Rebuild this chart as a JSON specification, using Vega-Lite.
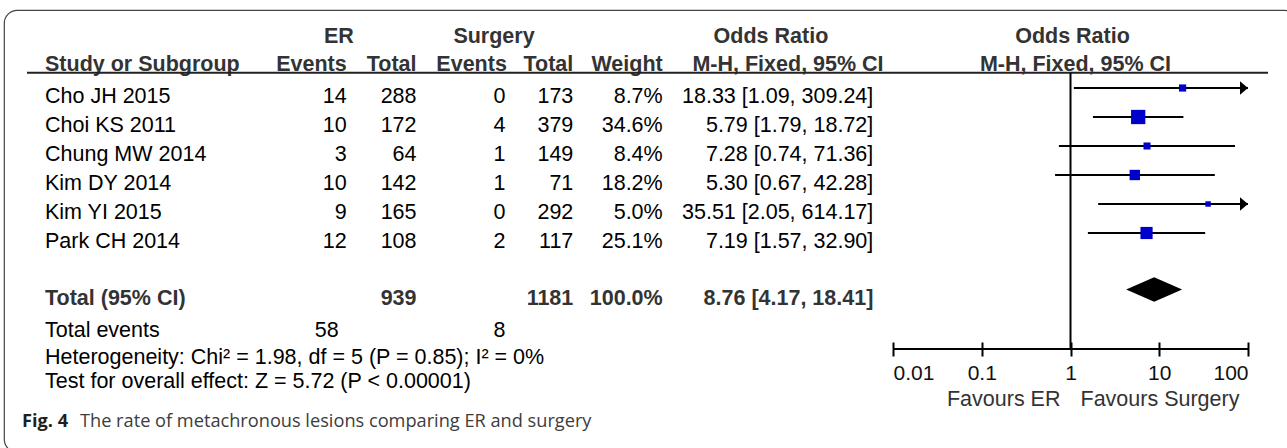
{
  "$schema": "https://vega.github.io/schema/vega-lite/v6.json",
  "width": 1293,
  "height": 442,
  "autosize": {"type": "none"},
  "padding": {"left": 4, "top": 10, "right": -10, "bottom": -4},
  "background": "white",
  "view": {"stroke": "#444444", "strokeWidth": 1.2, "cornerRadius": 13, "fill": null},
  "config": {
    "text": {"font": "Liberation Sans", "fontSize": 21.5, "baseline": "top", "dy": -2, "color": "#000000"}
  },
  "datasets": {
    "studies": [
      {"study": "Cho JH 2015", "row": 2, "er_events": 14, "er_total": 288, "s_events": 0, "s_total": 173, "weight": 0.087, "or": 18.33, "lo": 1.09, "hi": 309.24, "ci": "18.33 [1.09, 309.24]"},
      {"study": "Choi KS 2011", "row": 3, "er_events": 10, "er_total": 172, "s_events": 4, "s_total": 379, "weight": 0.346, "or": 5.79, "lo": 1.79, "hi": 18.72, "ci": "5.79 [1.79, 18.72]"},
      {"study": "Chung MW 2014", "row": 4, "er_events": 3, "er_total": 64, "s_events": 1, "s_total": 149, "weight": 0.084, "or": 7.28, "lo": 0.74, "hi": 71.36, "ci": "7.28 [0.74, 71.36]"},
      {"study": "Kim DY 2014", "row": 5, "er_events": 10, "er_total": 142, "s_events": 1, "s_total": 71, "weight": 0.182, "or": 5.30, "lo": 0.67, "hi": 42.28, "ci": "5.30 [0.67, 42.28]"},
      {"study": "Kim YI 2015", "row": 6, "er_events": 9, "er_total": 165, "s_events": 0, "s_total": 292, "weight": 0.050, "or": 35.51, "lo": 2.05, "hi": 614.17, "ci": "35.51 [2.05, 614.17]"},
      {"study": "Park CH 2014", "row": 7, "er_events": 12, "er_total": 108, "s_events": 2, "s_total": 117, "weight": 0.251, "or": 7.19, "lo": 1.57, "hi": 32.90, "ci": "7.19 [1.57, 32.90]"}
    ],
    "totals": [
      {"study": "Total (95% CI)", "row": 8, "er_events": 58, "er_total": 939, "s_events": 8, "s_total": 1181, "weight": 1.0, "or": 8.76, "lo": 4.17, "hi": 18.41, "ci": "8.76 [4.17, 18.41]"}
    ],
    "notes": [
      {"row": 10, "label": "Heterogeneity: Chi² = 1.98, df = 5 (P = 0.85); I² = 0%"},
      {"row": 11, "label": "Test for overall effect: Z = 5.72 (P < 0.00001)"}
    ],
    "labels": [
      {"key": "h_er", "label": "ER"},
      {"key": "h_surg", "label": "Surgery"},
      {"key": "h_or", "label": "Odds Ratio"},
      {"key": "c_study", "label": "Study or Subgroup"},
      {"key": "c_er_e", "label": "Events"},
      {"key": "c_er_t", "label": "Total"},
      {"key": "c_s_e", "label": "Events"},
      {"key": "c_s_t", "label": "Total"},
      {"key": "c_w", "label": "Weight"},
      {"key": "c_ci", "label": "M-H, Fixed, 95% CI"},
      {"key": "f_or", "label": "Odds Ratio"},
      {"key": "f_ci", "label": "M-H, Fixed, 95% CI"},
      {"key": "fav_er", "label": "Favours ER"},
      {"key": "fav_s", "label": "Favours Surgery"},
      {"key": "fig", "label": "Fig. 4"},
      {"key": "caption", "label": "The rate of metachronous lesions comparing ER and surgery"}
    ],
    "reference": [
      {"or": 1, "lo": 0.01, "hi": 100}
    ]
  },
  "resolve": {"scale": {"x": "independent"}},
  "layer": [
    {
      "layer": [
        {"data": {"name": "studies"}, "mark": {"type": "text", "align": "left"},
         "encoding": {"x": {"datum": 0, "scale": {"type": "linear", "domain": [-1, 0, 1, 2, 3, 4, 5, 6, 7], "range": [23, 41, 342.7, 412.5, 501.5, 569.3, 658.7, 869.3, 1264], "zero": false, "nice": false}, "axis": null},
                      "y": {"field": "row", "type": "quantitative",
                            "scale": {"type": "linear", "domain": [0, 1, 1.5, 2, 7, 8, 9, 10, 11, 11.5, 12],
                                      "range": [18.3, 46, 62.7, 78, 223, 279.5, 312, 339, 363, 380.5, 405], "zero": false, "nice": false},
                            "axis": null},
                      "text": {"field": "study", "type": "nominal"}}},
        {"data": {"name": "studies"}, "mark": {"type": "text", "align": "right"},
         "encoding": {"x": {"datum": 1, "axis": null}, "y": {"field": "row", "type": "quantitative", "axis": null}, "text": {"field": "er_events", "type": "nominal"}}},
        {"data": {"name": "studies"}, "mark": {"type": "text", "align": "right"},
         "encoding": {"x": {"datum": 2, "axis": null}, "y": {"field": "row", "type": "quantitative", "axis": null}, "text": {"field": "er_total", "type": "nominal"}}},
        {"data": {"name": "studies"}, "mark": {"type": "text", "align": "right"},
         "encoding": {"x": {"datum": 3, "axis": null}, "y": {"field": "row", "type": "quantitative", "axis": null}, "text": {"field": "s_events", "type": "nominal"}}},
        {"data": {"name": "studies"}, "mark": {"type": "text", "align": "right"},
         "encoding": {"x": {"datum": 4, "axis": null}, "y": {"field": "row", "type": "quantitative", "axis": null}, "text": {"field": "s_total", "type": "nominal"}}},
        {"data": {"name": "studies"}, "mark": {"type": "text", "align": "right"},
         "encoding": {"x": {"datum": 5, "axis": null}, "y": {"field": "row", "type": "quantitative", "axis": null}, "text": {"field": "weight", "type": "quantitative", "format": ".1%"}}},
        {"data": {"name": "studies"}, "mark": {"type": "text", "align": "right"},
         "encoding": {"x": {"datum": 6, "axis": null}, "y": {"field": "row", "type": "quantitative", "axis": null}, "text": {"field": "ci", "type": "nominal"}}},

        {"data": {"name": "totals"}, "mark": {"type": "text", "align": "left", "fontWeight": "bold", "color": "#333333"},
         "encoding": {"x": {"datum": 0, "axis": null}, "y": {"field": "row", "type": "quantitative", "axis": null}, "text": {"field": "study", "type": "nominal"}}},
        {"data": {"name": "totals"}, "mark": {"type": "text", "align": "right", "fontWeight": "bold", "color": "#333333"},
         "encoding": {"x": {"datum": 2, "axis": null}, "y": {"field": "row", "type": "quantitative", "axis": null}, "text": {"field": "er_total", "type": "nominal"}}},
        {"data": {"name": "totals"}, "mark": {"type": "text", "align": "right", "fontWeight": "bold", "color": "#333333"},
         "encoding": {"x": {"datum": 4, "axis": null}, "y": {"field": "row", "type": "quantitative", "axis": null}, "text": {"field": "s_total", "type": "nominal"}}},
        {"data": {"name": "totals"}, "mark": {"type": "text", "align": "right", "fontWeight": "bold", "color": "#333333"},
         "encoding": {"x": {"datum": 5, "axis": null}, "y": {"field": "row", "type": "quantitative", "axis": null}, "text": {"field": "weight", "type": "quantitative", "format": ".1%"}}},
        {"data": {"name": "totals"}, "mark": {"type": "text", "align": "right", "fontWeight": "bold", "color": "#333333"},
         "encoding": {"x": {"datum": 6, "axis": null}, "y": {"field": "row", "type": "quantitative", "axis": null}, "text": {"field": "ci", "type": "nominal"}}},

        {"data": {"name": "totals"}, "mark": {"type": "text", "align": "left"},
         "encoding": {"x": {"datum": 0, "axis": null}, "y": {"datum": 9, "axis": null}, "text": {"value": "Total events"}}},
        {"data": {"name": "totals"}, "mark": {"type": "text", "align": "right", "dx": -8},
         "encoding": {"x": {"datum": 1, "axis": null}, "y": {"datum": 9, "axis": null}, "text": {"field": "er_events", "type": "nominal"}}},
        {"data": {"name": "totals"}, "mark": {"type": "text", "align": "right"},
         "encoding": {"x": {"datum": 3, "axis": null}, "y": {"datum": 9, "axis": null}, "text": {"field": "s_events", "type": "nominal"}}},

        {"data": {"name": "notes"}, "mark": {"type": "text", "align": "left"},
         "encoding": {"x": {"datum": 0, "axis": null}, "y": {"field": "row", "type": "quantitative", "axis": null}, "text": {"field": "label", "type": "nominal"}}},

        {"data": {"name": "labels"}, "transform": [{"filter": "datum.key == 'h_er'"}],
         "mark": {"type": "text", "align": "center", "fontWeight": "bold", "color": "#333333"},
         "encoding": {"x": {"datum": 0.974, "axis": null}, "y": {"datum": 0, "axis": null}, "text": {"field": "label", "type": "nominal"}}},
        {"data": {"name": "labels"}, "transform": [{"filter": "datum.key == 'h_surg'"}],
         "mark": {"type": "text", "align": "center", "fontWeight": "bold", "color": "#333333"},
         "encoding": {"x": {"datum": 2.871, "axis": null}, "y": {"datum": 0, "axis": null}, "text": {"field": "label", "type": "nominal"}}},
        {"data": {"name": "labels"}, "transform": [{"filter": "datum.key == 'h_or'"}],
         "mark": {"type": "text", "align": "center", "fontWeight": "bold", "color": "#333333"},
         "encoding": {"x": {"datum": 5.514, "axis": null}, "y": {"datum": 0, "axis": null}, "text": {"field": "label", "type": "nominal"}}},

        {"data": {"name": "labels"}, "transform": [{"filter": "datum.key == 'c_study'"}],
         "mark": {"type": "text", "align": "left", "fontWeight": "bold", "color": "#333333"},
         "encoding": {"x": {"datum": 0, "axis": null}, "y": {"datum": 1, "axis": null}, "text": {"field": "label", "type": "nominal"}}},
        {"data": {"name": "labels"}, "transform": [{"filter": "datum.key == 'c_er_e'"}],
         "mark": {"type": "text", "align": "right", "fontWeight": "bold", "color": "#333333"},
         "encoding": {"x": {"datum": 1, "axis": null}, "y": {"datum": 1, "axis": null}, "text": {"field": "label", "type": "nominal"}}},
        {"data": {"name": "labels"}, "transform": [{"filter": "datum.key == 'c_er_t'"}],
         "mark": {"type": "text", "align": "right", "fontWeight": "bold", "color": "#333333"},
         "encoding": {"x": {"datum": 2, "axis": null}, "y": {"datum": 1, "axis": null}, "text": {"field": "label", "type": "nominal"}}},
        {"data": {"name": "labels"}, "transform": [{"filter": "datum.key == 'c_s_e'"}],
         "mark": {"type": "text", "align": "right", "fontWeight": "bold", "color": "#333333"},
         "encoding": {"x": {"datum": 3.02, "axis": null}, "y": {"datum": 1, "axis": null}, "text": {"field": "label", "type": "nominal"}}},
        {"data": {"name": "labels"}, "transform": [{"filter": "datum.key == 'c_s_t'"}],
         "mark": {"type": "text", "align": "right", "fontWeight": "bold", "color": "#333333"},
         "encoding": {"x": {"datum": 4, "axis": null}, "y": {"datum": 1, "axis": null}, "text": {"field": "label", "type": "nominal"}}},
        {"data": {"name": "labels"}, "transform": [{"filter": "datum.key == 'c_w'"}],
         "mark": {"type": "text", "align": "right", "fontWeight": "bold", "color": "#333333"},
         "encoding": {"x": {"datum": 5, "axis": null}, "y": {"datum": 1, "axis": null}, "text": {"field": "label", "type": "nominal"}}},
        {"data": {"name": "labels"}, "transform": [{"filter": "datum.key == 'c_ci'"}],
         "mark": {"type": "text", "align": "center", "fontWeight": "bold", "color": "#333333"},
         "encoding": {"x": {"datum": 5.595, "axis": null}, "y": {"datum": 1, "axis": null}, "text": {"field": "label", "type": "nominal"}}},

        {"data": {"name": "labels"}, "transform": [{"filter": "datum.key == 'c_study'"}],
         "mark": {"type": "rule", "strokeWidth": 2, "color": "#222222"},
         "encoding": {"x": {"datum": -1, "axis": null}, "x2": {"datum": 7}, "y": {"datum": 1.5, "axis": null}}},

        {"data": {"name": "labels"}, "transform": [{"filter": "datum.key == 'fig'"}],
         "mark": {"type": "text", "align": "left", "font": "Open Sans", "fontSize": 18.2, "fontWeight": "bold", "dx": -5, "color": "#231f20"},
         "encoding": {"x": {"datum": -1, "axis": null}, "y": {"datum": 12, "axis": null}, "text": {"field": "label", "type": "nominal"}}},
        {"data": {"name": "labels"}, "transform": [{"filter": "datum.key == 'caption'"}],
         "mark": {"type": "text", "align": "left", "font": "Open Sans", "fontSize": 18.2, "dx": 53, "color": "#3c3c3c"},
         "encoding": {"x": {"datum": -1, "axis": null}, "y": {"datum": 12, "axis": null}, "text": {"field": "label", "type": "nominal"}}}
      ]
    },
    {
      "layer": [
        {"data": {"name": "reference"}, "mark": {"type": "rule", "strokeWidth": 2, "color": "#000000"},
         "encoding": {
           "x": {"field": "or", "type": "quantitative",
                 "scale": {"type": "log", "domain": [0.01, 100], "range": [889, 1244], "clamp": true, "nice": false},
                 "axis": {"orient": "bottom", "offset": -110, "values": [0.01, 0.1, 1, 10, 100], "format": "~g",
                          "domain": false, "grid": false, "ticks": true, "tickSize": 14, "tickWidth": 2, "tickColor": "#000000",
                          "labelFont": "Liberation Sans", "labelFontSize": 21, "labelColor": "#111111", "labelPadding": 6,
                          "labelFlush": true, "labelOverlap": false, "title": null}},
           "y": {"datum": 1.5, "axis": null},
           "y2": {"datum": 10}}},
        {"data": {"name": "reference"}, "mark": {"type": "rule", "strokeWidth": 2, "color": "#000000"},
         "encoding": {"x": {"field": "lo", "type": "quantitative"}, "x2": {"field": "hi"}, "y": {"datum": 10, "axis": null}}},
        {"data": {"name": "studies"}, "mark": {"type": "rule", "strokeWidth": 2, "color": "#000000"},
         "encoding": {"x": {"field": "lo", "type": "quantitative"}, "x2": {"field": "hi"}, "y": {"field": "row", "type": "quantitative", "axis": null}}},
        {"data": {"name": "studies"}, "transform": [{"filter": "datum.hi > 100"}],
         "mark": {"type": "point", "shape": "M0,0L-1,-0.85L-1,0.85Z", "size": 256, "filled": true, "color": "#000000", "opacity": 1, "strokeWidth": 0},
         "encoding": {"x": {"field": "hi", "type": "quantitative"}, "y": {"field": "row", "type": "quantitative", "axis": null}}},
        {"data": {"name": "studies"},
         "mark": {"type": "point", "shape": "square", "filled": true, "color": "#0000cc", "opacity": 1, "strokeWidth": 0},
         "encoding": {"x": {"field": "or", "type": "quantitative"}, "y": {"field": "row", "type": "quantitative", "axis": null},
                      "size": {"field": "weight", "type": "quantitative", "scale": {"type": "linear", "domain": [0, 1], "range": [0, 590]}, "legend": null}}},
        {"data": {"name": "totals"},
         "mark": {"type": "point", "shape": "M-1,0L0,-0.44L1,0L0,0.44Z", "size": 3136, "filled": true, "color": "#000000", "opacity": 1, "strokeWidth": 0},
         "encoding": {"x": {"field": "or", "type": "quantitative"}, "y": {"field": "row", "type": "quantitative", "axis": null}}},
        {"data": {"name": "labels"}, "transform": [{"filter": "datum.key == 'fav_er'"}],
         "mark": {"type": "text", "align": "right", "dx": -10, "color": "#333333"},
         "encoding": {"x": {"datum": 1}, "y": {"datum": 11.5, "axis": null}, "text": {"field": "label", "type": "nominal"}}},
        {"data": {"name": "labels"}, "transform": [{"filter": "datum.key == 'fav_s'"}],
         "mark": {"type": "text", "align": "left", "dx": 10, "color": "#333333"},
         "encoding": {"x": {"datum": 1}, "y": {"datum": 11.5, "axis": null}, "text": {"field": "label", "type": "nominal"}}},
        {"data": {"name": "labels"}, "transform": [{"filter": "datum.key == 'f_or'"}],
         "mark": {"type": "text", "align": "center", "dx": 2, "fontWeight": "bold", "color": "#333333"},
         "encoding": {"x": {"datum": 1}, "y": {"datum": 0, "axis": null}, "text": {"field": "label", "type": "nominal"}}},
        {"data": {"name": "labels"}, "transform": [{"filter": "datum.key == 'f_ci'"}],
         "mark": {"type": "text", "align": "center", "dx": 5, "fontWeight": "bold", "color": "#333333"},
         "encoding": {"x": {"datum": 1}, "y": {"datum": 1, "axis": null}, "text": {"field": "label", "type": "nominal"}}}
      ]
    }
  ]
}
